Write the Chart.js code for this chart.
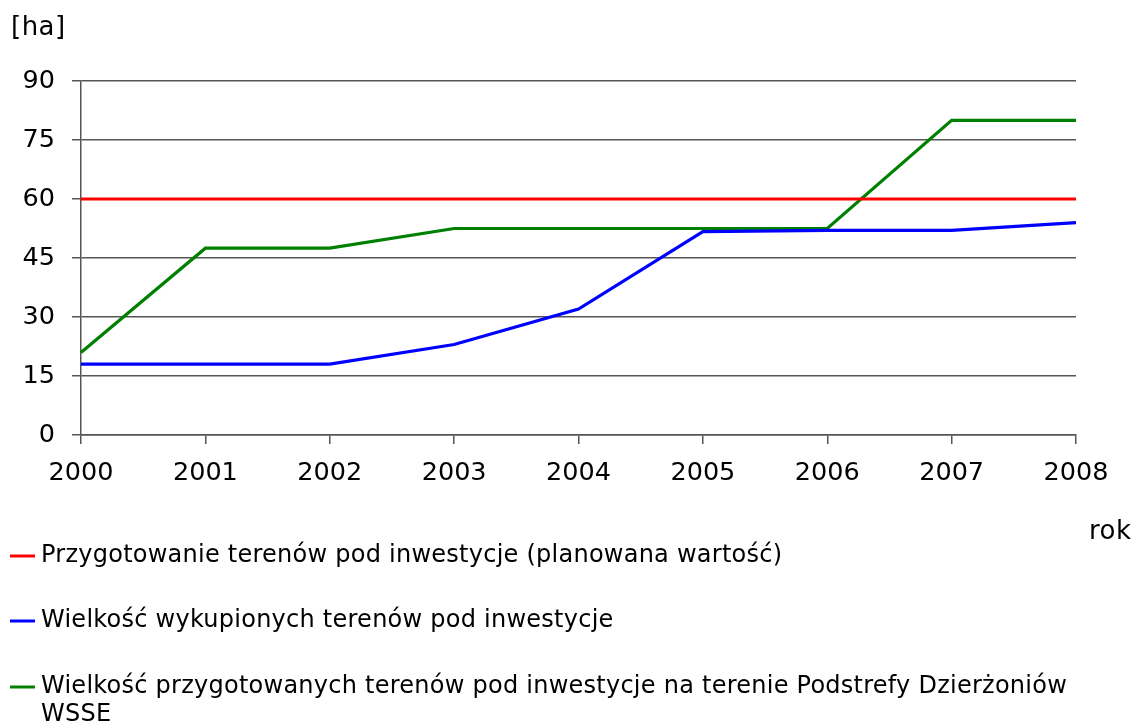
<!DOCTYPE html>
<html><head><meta charset="utf-8">
<script src="https://cdn.jsdelivr.net/npm/chart.js@4.4.1/dist/chart.umd.min.js"></script>
<style>html,body{margin:0;padding:0;background:#fff;}#wrap{width:1137px;height:726px;position:relative;}</style>
</head><body><div id="wrap"><canvas id="c" width="1137" height="726"></canvas></div>
<script>
const years = ['2000','2001','2002','2003','2004','2005','2006','2007','2008'];
const planned = [60,60,60,60,60,60,60,60,60];
const purchased = [18,18,18,23,32,51.7,52,52,54];
const prepared = [21,47.5,47.5,52.5,52.5,52.5,52.5,80,80];
const yTicks = [0,15,30,45,60,75,90];
const labels = ['Przygotowanie terenów pod inwestycje (planowana wartość)',
  'Wielkość wykupionych terenów pod inwestycje',
  'Wielkość przygotowanych terenów pod inwestycje na terenie Podstrefy Dzierżoniów WSSE'];
const colors = ['#ff0000','#0000ff','#008000'];
const FONT = '"DejaVu Sans", Verdana, sans-serif';

const extras = {
  id:'extras',
  afterDraw(chart){
    const ctx = chart.ctx;
    ctx.save();
    ctx.fillStyle = '#000';
    ctx.textBaseline = 'middle';
    ctx.textAlign = 'left';
    ctx.font = '26px ' + FONT;
    ctx.letterSpacing = '0.5px';
    ctx.fillText('[ha]', 11, 28);
    ctx.fillText('rok', 1089, 532);
    ctx.font = '24px ' + FONT;
    ctx.letterSpacing = '0.25px';
    const rows = [556, 621, 687];
    chart.data.datasets.forEach((ds, i) => {
      const y = rows[i];
      ctx.strokeStyle = ds.borderColor;
      ctx.lineWidth = 3;
      ctx.beginPath(); ctx.moveTo(10, y); ctx.lineTo(35, y); ctx.stroke();
      const words = ds.label.split(' ');
      let line = '', ly = y;
      const maxW = 1060;
      ctx.fillStyle = '#000';
      words.forEach(w => {
        const t = line ? line + ' ' + w : w;
        if (ctx.measureText(t).width > maxW && line) {
          ctx.fillText(line, 41, ly); line = w; ly += 28;
        } else line = t;
      });
      ctx.fillText(line, 41, ly);
    });
    ctx.restore();
  }
};

new Chart(document.getElementById('c'), {
  type:'line',
  data:{
    labels: years,
    datasets:[
      {label:labels[0], data:planned, borderColor:colors[0]},
      {label:labels[1], data:purchased, borderColor:colors[1]},
      {label:labels[2], data:prepared, borderColor:colors[2]}
    ].map(d => Object.assign(d,{borderWidth:3.2, pointRadius:0, tension:0, fill:false}))
  },
  options:{
    responsive:false, animation:false,
    layout:{padding:{left:0, top:81, right:61, bottom:0}},
    plugins:{legend:{display:false}, tooltip:{enabled:false}},
    scales:{
      x:{
        offset:false,
        grid:{display:true, drawOnChartArea:false, drawTicks:true, tickLength:9, color:'#555', lineWidth:1.5},
        border:{display:true, color:'#555', width:1.5},
        ticks:{color:'#000', font:{family:FONT, size:25.5}, padding:14, maxRotation:0, autoSkip:false},
        afterFit(s){ s.height = 291; }
      },
      y:{
        min:0, max:90,
        afterBuildTicks(s){ s.ticks = yTicks.map(v => ({value:v})); },
        grid:{color:'#555', lineWidth:1.5, tickLength:9},
        border:{display:true, color:'#555', width:1.5},
        ticks:{color:'#000', font:{family:FONT, size:25.5}, padding:17, crossAlign:'near'},
        afterFit(s){ s.width = 81; }
      }
    }
  },
  plugins:[extras]
});
</script></body></html>
